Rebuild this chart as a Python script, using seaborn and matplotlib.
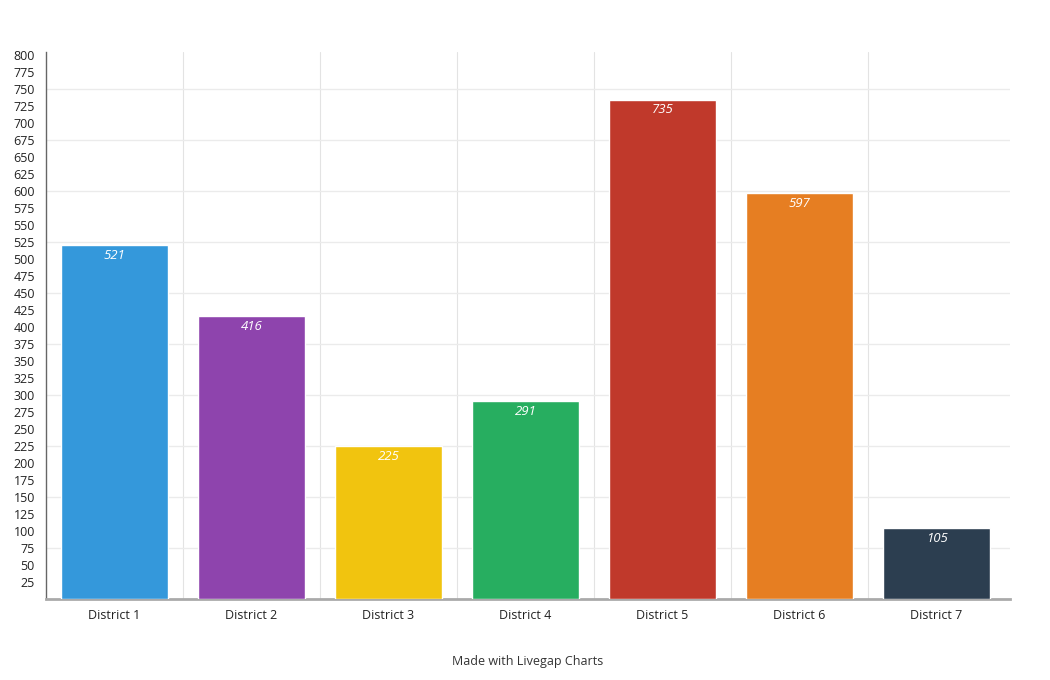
import numpy as np
import pandas as pd
import matplotlib
matplotlib.use('Agg')
import matplotlib.pyplot as plt
import seaborn as sns

sns.set_theme(style='white')
plt.rcParams['font.family'] = ['Open Sans', 'DejaVu Sans']

# data
districts = ['District 1', 'District 2', 'District 3', 'District 4',
             'District 5', 'District 6', 'District 7']
values = [521, 416, 225, 291, 735, 597, 105]
colors = ['#3498db', '#8e44ad', '#f1c40f', '#27ae60',
          '#c0392b', '#e67e22', '#2c3e50']
y_ticks = list(range(25, 801, 25))
grid_levels = list(range(75, 751, 75))

df = pd.DataFrame({'district': districts, 'value': values})

fig = plt.figure(figsize=(10.5, 6.8), dpi=100)
ax = fig.add_axes([46 / 1050, 81 / 680, 964 / 1050, 547 / 680])

sns.barplot(data=df, x='district', y='value', hue='district',
            palette=colors, legend=False, width=0.78, saturation=1,
            ax=ax, zorder=3)

# value labels inside the top of each bar
for i, v in enumerate(values):
    ax.annotate(str(v), (i, v), xytext=(0, -7.5), textcoords='offset points',
                ha='center', va='center', color='white', fontsize=9.5,
                style='italic', zorder=4)

ax.set_ylim(0, 805)
# categories fill 959px, the axis line runs a little further
ax.set_xlim(-0.5, len(districts) - 0.5 + 5 / 137)
ax.set_yticks(y_ticks)
ax.set_yticklabels([str(t) for t in y_ticks], fontsize=9, color='#222222')
ax.set_xticks(range(len(districts)))
ax.set_xticklabels(districts, fontsize=9, color='#222222')
ax.set_xlabel('')
ax.set_ylabel('')

# light horizontal grid every 75
for g in grid_levels:
    ax.axhline(g, color='#ebebeb', lw=1, zorder=1)

# vertical grid at category boundaries
ax.set_xticks(np.arange(0.5, len(districts) - 0.5, 1), minor=True)
ax.grid(True, which='minor', axis='x', color='#e3e3e3', lw=0.8, zorder=1)
ax.tick_params(axis='x', which='major', length=0, pad=7)
ax.tick_params(axis='x', which='minor', length=5, color='#d9d9d9', width=0.8)
ax.tick_params(axis='y', length=4, color='#dddddd', width=1, pad=4)

for side in ['top', 'right']:
    ax.spines[side].set_visible(False)
ax.spines['left'].set_color('#666666')
ax.spines['left'].set_linewidth(1)
ax.spines['left'].set_bounds(0, 805)
ax.spines['bottom'].set_color('#aaaaaa')
ax.spines['bottom'].set_linewidth(2)

fig.text(528 / 1050, 1 - 661 / 680, 'Made with Livegap Charts',
         ha='center', va='center', fontsize=9, color='#333333')

fig.savefig('out.png', dpi=100, facecolor='white')
